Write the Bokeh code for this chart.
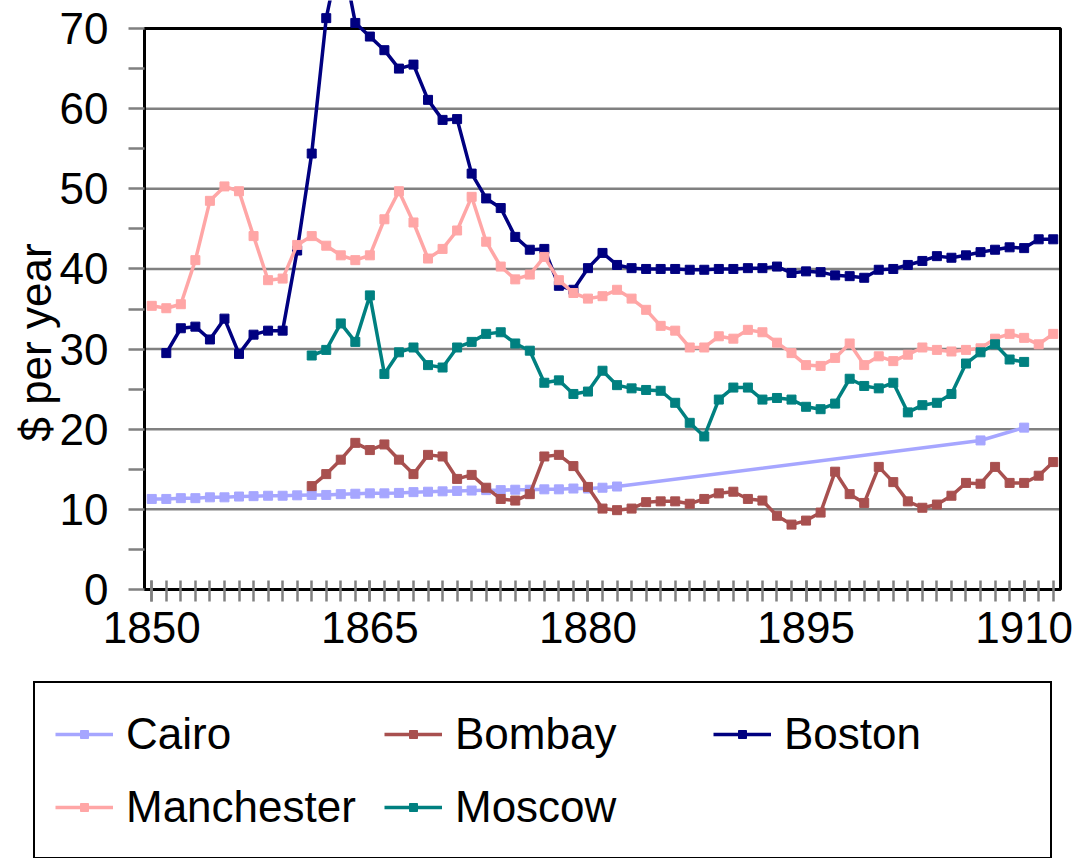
import math
from bokeh.plotting import figure
from bokeh.models import Range1d, FixedTicker, Legend, LegendItem, BoxAnnotation, Label
from bokeh.embed import file_html
from bokeh.resources import INLINE

FONT = "Liberation Sans"

# ---- data ----
cairo_years = list(range(1850, 1883)) + [1907, 1910]
cairo = [11.3, 11.3, 11.4, 11.4, 11.5, 11.5, 11.6, 11.65, 11.7, 11.7,
         11.75, 11.8, 11.8, 11.9, 11.95, 12.0, 12.0, 12.05, 12.15, 12.2,
         12.25, 12.3, 12.35, 12.4, 12.4, 12.45, 12.45, 12.5, 12.5, 12.6,
         12.6, 12.7, 12.85, 18.6, 20.2]

bombay_years = list(range(1861, 1913))
bombay = [12.9, 14.4, 16.2, 18.3, 17.4, 18.1, 16.2, 14.4, 16.8, 16.6,
          13.8, 14.3, 12.7, 11.3, 11.1, 11.9, 16.6, 16.8, 15.4, 12.8,
          10.1, 9.9, 10.1, 10.9, 11.0, 11.0, 10.7, 11.3, 12.0, 12.2,
          11.3, 11.1, 9.2, 8.1, 8.6, 9.6, 14.7, 11.9, 10.8, 15.3,
          13.4, 11.0, 10.2, 10.6, 11.7, 13.3, 13.2, 15.3, 13.3, 13.3,
          14.2, 15.9]

boston_years = list(range(1851, 1913))
boston = [29.5, 32.6, 32.8, 31.2, 33.8, 29.4, 31.8, 32.3, 32.3, 42.3,
          54.4, 71.3, 80.0, 70.7, 69.0, 67.3, 65.0, 65.5, 61.1, 58.6,
          58.7, 51.9, 48.8, 47.6, 44.0, 42.4, 42.5, 37.9, 37.4, 40.1,
          42.0, 40.5, 40.1, 40.0, 40.0, 40.0, 39.9, 39.9, 40.0, 40.0,
          40.1, 40.1, 40.3, 39.5, 39.7, 39.6, 39.2, 39.1, 38.9, 39.9,
          40.0, 40.5, 41.0, 41.6, 41.4, 41.7, 42.1, 42.4, 42.7, 42.6,
          43.7, 43.7]

manchester_years = list(range(1850, 1913))
manchester = [35.4, 35.1, 35.6, 41.1, 48.5, 50.3, 49.7, 44.1, 38.6, 38.8,
              43.0, 44.1, 42.9, 41.7, 41.1, 41.7, 46.2, 49.7, 45.8, 41.3,
              42.5, 44.8, 49.0, 43.4, 40.3, 38.7, 39.3, 41.5, 38.6, 37.0,
              36.3, 36.6, 37.4, 36.3, 34.9, 32.9, 32.3, 30.2, 30.2, 31.6,
              31.3, 32.4, 32.1, 30.8, 29.5, 28.0, 27.9, 28.9, 30.7, 28.0,
              29.1, 28.5, 29.3, 30.2, 29.9, 29.7, 29.9, 30.1, 31.3, 31.9,
              31.4, 30.6, 31.9]

moscow_years = list(range(1861, 1911))
moscow = [29.2, 29.9, 33.2, 30.9, 36.7, 26.9, 29.6, 30.2, 28.0, 27.7,
          30.2, 30.9, 31.9, 32.1, 30.7, 29.8, 25.8, 26.1, 24.4, 24.7,
          27.3, 25.5, 25.1, 24.9, 24.8, 23.3, 20.8, 19.1, 23.7, 25.2,
          25.2, 23.7, 23.9, 23.7, 22.8, 22.5, 23.2, 26.3, 25.4, 25.1,
          25.8, 22.1, 23.0, 23.3, 24.4, 28.2, 29.6, 30.6, 28.7, 28.4]

series_names = ["Cairo", "Bombay", "Boston", "Manchester", "Moscow"]
series_colors = ["#A6A6FF", "#A8504F", "#000080", "#FFA6A6", "#008080"]
series_data = [(cairo_years, cairo), (bombay_years, bombay), (boston_years, boston),
               (manchester_years, manchester), (moscow_years, moscow)]

x_labeled = [1850, 1865, 1880, 1895, 1910]
x_all_years = list(range(1850, 1913))
y_ticks = [0, 10, 20, 30, 40, 50, 60, 70]
y_minor = [5, 15, 25, 35, 45, 55, 65]
y_label = "$ per year"

# ---- layout geometry (pixels) ----
W, H = 1082, 858
AX_L, AX_R, AX_T0, AX_B = 144, 1060, 0, 589     # plot area edges on the canvas
X0, X1 = x_all_years[0] - 0.5, x_all_years[-1] + 0.5
px_x = (AX_R - AX_L) / (X1 - X0)
Y1 = 73.5
px_y = (AX_B - AX_T0) / Y1
x_range = Range1d(X0 - AX_L / px_x, X1 + (W - AX_R) / px_x)
y_range = Range1d(-(H - AX_B) / px_y, Y1)

p = figure(width=W, height=H, x_range=x_range, y_range=y_range,
           output_backend="svg", toolbar_location=None,
           min_border_left=0, min_border_right=0, min_border_top=0, min_border_bottom=0)
p.outline_line_color = None
p.background_fill_color = "white"
p.border_fill_color = "white"
p.xgrid.visible = False
p.ygrid.visible = False

GRAY = "#808080"

# horizontal gridlines, limited to the plot area
grid_ys = y_ticks[1:-1]
p.segment(x0=[X0] * len(grid_ys), y0=grid_ys, x1=[X1] * len(grid_ys), y1=grid_ys,
          line_color=GRAY, line_width=2.5, level="underlay")

# plot-area border (0..70)
p.add_layout(BoxAnnotation(left=X0, right=X1, bottom=y_ticks[0], top=y_ticks[-1],
                           fill_alpha=0, line_color="black", line_alpha=1, line_width=3,
                           level="underlay"))

xa = p.xaxis[0]
xa.fixed_location = 0
xa.bounds = (X0, X1)
xa.ticker = FixedTicker(ticks=x_labeled, minor_ticks=x_all_years)
xa.axis_line_color = "black"
xa.axis_line_width = 3
xa.major_tick_line_color = GRAY
xa.major_tick_line_width = 2.5
xa.major_tick_in = 9
xa.major_tick_out = 12
xa.minor_tick_line_color = GRAY
xa.minor_tick_line_width = 2.5
xa.minor_tick_in = 9
xa.minor_tick_out = 12
xa.major_label_text_font = FONT
xa.major_label_text_font_size = "44px"
xa.major_label_text_color = "black"
xa.major_label_standoff = 10

ya = p.yaxis[0]
ya.fixed_location = X0
ya.bounds = (y_ticks[0], y_ticks[-1])
ya.ticker = FixedTicker(ticks=y_ticks, minor_ticks=y_minor)
ya.axis_line_color = "black"
ya.axis_line_width = 3
ya.major_tick_line_color = GRAY
ya.major_tick_line_width = 2.5
ya.major_tick_in = 0
ya.major_tick_out = 16
ya.minor_tick_line_color = GRAY
ya.minor_tick_line_width = 2.5
ya.minor_tick_in = 0
ya.minor_tick_out = 16
ya.major_label_text_font = FONT
ya.major_label_text_font_size = "44px"
ya.major_label_text_color = "black"
ya.major_label_standoff = 20

items = []
for name, color, (xs, ys) in zip(series_names, series_colors, series_data):
    rl = p.line(xs, ys, line_color=color, line_width=3.5)
    rs = p.scatter(xs, ys, marker="square", size=9, fill_color=color, line_color=color)
    items.append(LegendItem(label=name, renderers=[rl, rs]))

legend = Legend(items=items, location=(33, -1), orientation="horizontal", ncols=3,
                border_line_color="black", border_line_alpha=1, border_line_width=2.5,
                background_fill_color="white", background_fill_alpha=1,
                label_text_font=FONT, label_text_font_size="44px",
                label_text_color="black",
                glyph_width=58, glyph_height=20, label_standoff=13,
                label_width=246, label_height=61, padding=20, spacing=12, margin=0)
p.add_layout(legend, "center")

p.add_layout(Label(x=34.5, y=H - 342, x_units="screen", y_units="screen",
                   text=y_label, angle=math.pi / 2, text_align="center",
                   text_baseline="middle", text_font=FONT, text_font_size="44px",
                   text_color="black"))

open("out.html", "w").write(file_html(p, INLINE))
